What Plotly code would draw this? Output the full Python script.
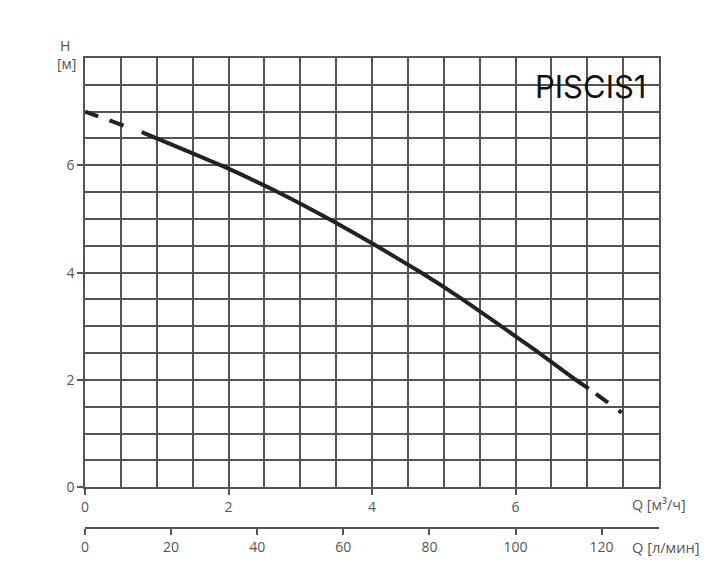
import plotly.graph_objects as go

# Pump curve data (Q in m³/h, H in m)
q_m3h = [0.0, 0.79, 1.93, 2.72, 3.44, 4.06, 4.66, 5.22, 5.75, 6.28, 6.82, 7.02, 7.48]
head_m = [7.0, 6.62, 5.98, 5.48, 4.97, 4.5, 4.02, 3.54, 3.05, 2.55, 2.02, 1.84, 1.39]

x_ticks = [0, 2, 4, 6]
y_ticks = [0, 2, 4, 6]
lpm_ticks = [0, 20, 40, 60, 80, 100, 120]
q_max_m3h = 8
q_max_lpm = q_max_m3h * 1000 / 60

title_text = "PISCIS1"

GRID = "#555555"
CURVE = "#222222"
LABEL = "#555555"
FONT = "Open Sans"
Y_DOM0 = 0.0866

fig = go.Figure()

# dashed start
fig.add_trace(go.Scatter(x=q_m3h[0:2], y=head_m[0:2], mode="lines",
                         line=dict(color=CURVE, width=4, dash="14px,12px,15px,40px"),
                         hoverinfo="skip", showlegend=False))
# solid main
fig.add_trace(go.Scatter(x=q_m3h[1:12], y=head_m[1:12], mode="lines",
                         line=dict(color=CURVE, width=4, shape="spline", smoothing=0.5),
                         hoverinfo="skip", showlegend=False))
# dashed tail
fig.add_trace(go.Scatter(x=q_m3h[11:], y=head_m[11:], mode="lines",
                         line=dict(color=CURVE, width=4, dash="0px,9px,15px,13px,6px,30px"),
                         hoverinfo="skip", showlegend=False))
# invisible trace on secondary axis
fig.add_trace(go.Scatter(x=[0, q_max_lpm], y=[0, 0], xaxis="x2", mode="lines",
                         line=dict(width=0), opacity=0, hoverinfo="skip", showlegend=False))

axis_common = dict(ticks="outside", ticklen=6, tickwidth=1.5, tickcolor=GRID,
                   zeroline=False, fixedrange=True,
                   tickfont=dict(family=FONT, size=14, color=LABEL))
grid_common = dict(showgrid=True, gridcolor=GRID, gridwidth=1.5,
                   minor=dict(dtick=0.5, tick0=0, showgrid=True, gridcolor=GRID,
                              gridwidth=1.5, ticks=""),
                   showline=True, mirror=True, linecolor=GRID, linewidth=1.5)

fig.update_layout(
    width=720, height=579,
    margin=dict(l=77, r=69, t=50, b=59),
    paper_bgcolor="white", plot_bgcolor="white",
    font=dict(family=FONT, size=14, color=LABEL),
    xaxis=dict(range=[0, q_max_m3h], tickmode="array", tickvals=x_ticks,
               anchor="y", **axis_common, **grid_common),
    yaxis=dict(range=[0, 8], domain=[Y_DOM0, 1], tickmode="array", tickvals=y_ticks,
               **axis_common, **grid_common),
    xaxis2=dict(range=[0, q_max_lpm], overlaying="x", anchor="free", position=0,
                side="bottom", tickmode="array", tickvals=lpm_ticks,
                showgrid=False, showline=True, linecolor=GRID, linewidth=1.5,
                **axis_common),
    annotations=[
        dict(text="H", xref="paper", yref="paper", x=-0.0348, y=1.0, yshift=12.7,
             xanchor="center", yanchor="middle", showarrow=False,
             font=dict(family=FONT, size=14, color=LABEL)),
        dict(text="[м]", xref="paper", yref="paper", x=-0.0325, y=1.0, yshift=-5.6,
             xanchor="center", yanchor="middle", showarrow=False,
             font=dict(family=FONT, size=14, color=LABEL)),
        dict(text="Q [м³/ч]", xref="paper", yref="paper", x=0.949, y=Y_DOM0, yshift=-17.7,
             xanchor="left", yanchor="middle", showarrow=False,
             font=dict(family=FONT, size=14.3, color=LABEL)),
        dict(text="Q [л/мин]", xref="paper", yref="paper", x=0.950, y=0, yshift=-18.7,
             xanchor="left", yanchor="middle", showarrow=False,
             font=dict(family=FONT, size=14.6, color=LABEL)),
        dict(text=title_text, xref="paper", yref="paper", x=0.981, y=1.0, yshift=-28,
             xanchor="right", yanchor="middle", showarrow=False,
             font=dict(family="Inter", size=31, color="#111111")),
    ],
)

fig.write_html("out.html")
